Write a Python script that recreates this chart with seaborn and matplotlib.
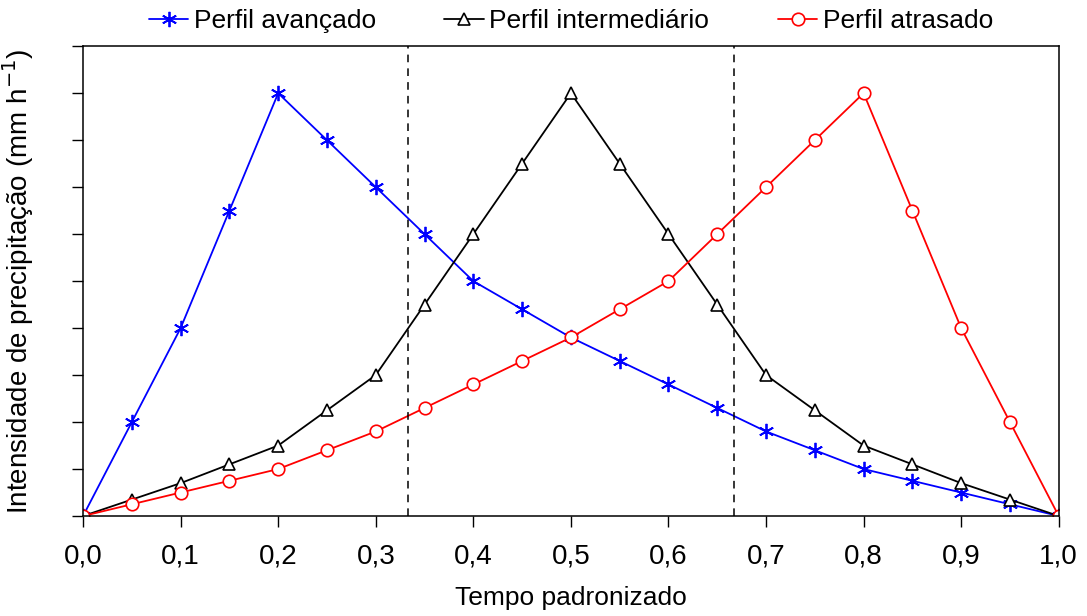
import pandas as pd
import seaborn as sns
import matplotlib.pyplot as plt

# === data ===
tempo = [0.0, 0.05, 0.10, 0.15, 0.20, 0.25, 0.30, 0.35, 0.40, 0.45, 0.50,
         0.55, 0.60, 0.65, 0.70, 0.75, 0.80, 0.85, 0.90, 0.95, 1.0]
avancado = [0, 2.0, 4.0, 6.5, 9.0, 8.0, 7.0, 6.0, 5.0, 4.4, 3.8,
            3.3, 2.8, 2.3, 1.8, 1.4, 1.0, 0.75, 0.5, 0.25, 0]
intermediario = [0, 0.35, 0.7, 1.1, 1.5, 2.25, 3.0, 4.5, 6.0, 7.5, 9.0,
                 7.5, 6.0, 4.5, 3.0, 2.25, 1.5, 1.1, 0.7, 0.35, 0]
atrasado = [0, 0.25, 0.5, 0.75, 1.0, 1.4, 1.8, 2.3, 2.8, 3.3, 3.8,
            4.4, 5.0, 6.0, 7.0, 8.0, 9.0, 6.5, 4.0, 2.0, 0]
xticks = [0.0, 0.1, 0.2, 0.3, 0.4, 0.5, 0.6, 0.7, 0.8, 0.9, 1.0]
xticklabels = ["0,0", "0,1", "0,2", "0,3", "0,4", "0,5", "0,6", "0,7", "0,8", "0,9", "1,0"]

df = pd.DataFrame({"tempo": tempo, "avancado": avancado,
                   "intermediario": intermediario, "atrasado": atrasado})

sns.set_style("ticks")
plt.rcParams["font.family"] = ["Liberation Sans", "DejaVu Sans"]
plt.rcParams["text.color"] = "black"
plt.rcParams["axes.labelcolor"] = "black"
plt.rcParams["xtick.color"] = "black"
plt.rcParams["ytick.color"] = "black"

fig = plt.figure(figsize=(10.87, 6.16), dpi=100)
ax = fig.add_axes([0.0764, 0.1623, 0.8976, 0.7627])

sns.lineplot(data=df, x="tempo", y="avancado", ax=ax, color="#0000ff", lw=1.3,
             marker=(6, 2, 0), markersize=11, markeredgewidth=1.3,
             markeredgecolor="#0000ff", label="Perfil avançado")
sns.lineplot(data=df, x="tempo", y="intermediario", ax=ax, color="black", lw=1.3,
             marker="^", markersize=9, markerfacecolor="white", markeredgewidth=1.2,
             markeredgecolor="black", label="Perfil intermediário")
sns.lineplot(data=df, x="tempo", y="atrasado", ax=ax, color="#ff0000", lw=1.3,
             marker="o", markersize=9, markerfacecolor="white", markeredgewidth=1.2,
             markeredgecolor="#ff0000", label="Perfil atrasado")

ax.axvline(1 / 3, color="black", ls=(0, (5, 4)), lw=1.1)
ax.axvline(2 / 3, color="black", ls=(0, (5, 4)), lw=1.1)

ax.set_xlim(0, 1.0)
ax.set_ylim(0, 10)
ax.set_xticks(xticks)
ax.set_xticklabels(xticklabels, fontsize=20)
ax.set_yticks(range(0, 11))
ax.set_yticklabels([])
ax.tick_params(direction="out", length=8, width=1, pad=12)
for s in ax.spines.values():
    s.set_linewidth(1.1)
    s.set_color("black")

ax.set_xlabel("Tempo padronizado", fontsize=19, labelpad=12)
ax.set_ylabel("Intensidade de precipitação (mm h$^{-1}$)", fontsize=20, labelpad=14)

ax.legend(loc="lower center", bbox_to_anchor=(0.5, 1.005), ncol=3, frameon=False,
          fontsize=19, handlelength=1.5, handletextpad=0.2, columnspacing=2.6,
          borderaxespad=0)

plt.savefig("out.png", dpi=100)
plt.close()
